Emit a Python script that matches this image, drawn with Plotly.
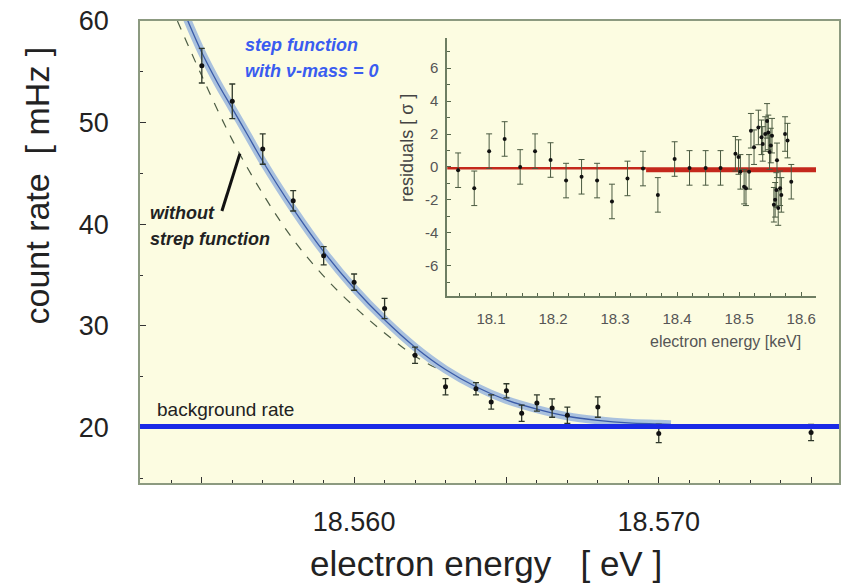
import plotly.graph_objects as go

# ---------------- data ----------------
energy_eV = [18.555, 18.556, 18.557, 18.558, 18.559, 18.560, 18.561, 18.562, 18.563,
             18.564, 18.5645, 18.565, 18.5655, 18.566, 18.5665, 18.567, 18.568, 18.570, 18.575]
count_rate = [55.6, 52.1, 47.4, 42.3, 36.9, 34.3, 31.7, 27.1, 24.0,
              23.8, 22.5, 23.6, 21.4, 22.4, 21.9, 21.2, 22.0, 19.4, 19.5]
count_err = [1.7, 1.7, 1.5, 1.0, 0.9, 0.8, 1.0, 0.8, 0.8,
             0.6, 0.7, 0.7, 0.8, 0.8, 0.9, 0.8, 1.0, 0.9, 0.8]

fit_E = [18.5545, 18.5550, 18.5555, 18.5560, 18.5565, 18.5570, 18.5580, 18.5590, 18.5600,
         18.5610, 18.5620, 18.5630, 18.5640, 18.5650, 18.5660, 18.5670, 18.5680, 18.5690,
         18.5700, 18.5704]
fit_rate = [60.3, 56.9, 54.0, 51.4, 48.8, 46.2, 41.5, 37.3, 33.7,
            30.6, 27.9, 25.7, 24.0, 22.7, 21.8, 21.1, 20.7, 20.45,
            20.35, 20.3]

nostep_E = [18.5542, 18.5550, 18.5560, 18.5570, 18.5580, 18.5590, 18.5600, 18.5610,
            18.5620, 18.5630, 18.5640]
nostep_rate = [60.0, 54.6, 48.3, 43.0, 38.5, 34.9, 31.9, 29.3, 27.0, 25.4, 24.0]

background_rate = 20.1

x_ticks = [18.555, 18.560, 18.565, 18.570, 18.575]
x_ticktext = ["", "18.560", "", "18.570", ""]
y_ticks = [20, 30, 40, 50, 60]

pointer_E = [18.55566, 18.55625]
pointer_rate = [41.3, 46.95]

res_E = [18.047, 18.073, 18.097, 18.122, 18.147, 18.171, 18.196, 18.221, 18.246, 18.271,
         18.295, 18.320, 18.345, 18.369, 18.396, 18.420, 18.446, 18.470,
         18.494, 18.499, 18.502, 18.508, 18.511, 18.516, 18.519, 18.524, 18.531, 18.536,
         18.538, 18.542, 18.545, 18.547, 18.549, 18.551, 18.553, 18.556, 18.558, 18.560,
         18.561, 18.563, 18.566, 18.568, 18.574, 18.578, 18.584]
res_val = [-0.2, -1.3, 0.96, 1.7, 0.0, 0.96, 0.42, -0.83, -0.6, -0.83,
           -2.1, -0.7, -0.1, -1.7, 0.48, -0.06, -0.06, -0.06,
           0.8, 0.6, -0.3, -1.2, -1.3, -0.3, 2.2, 1.2, 2.4, 1.8,
           1.4, 2.0, 2.8, 2.1, 0.9, 1.3, 1.9, -2.3, -2.0, -1.4,
           0.4, -2.5, -1.3, -1.7, 2.0, 1.6, -0.9]
res_err = [1.05] * len(res_E)

ref_thin_E = [18.0293, 18.35]
ref_thin_val = [-0.08, -0.08]
ref_thick_E = [18.35, 18.624]
ref_thick_val = [-0.17, -0.17]

res_x_ticks = [18.1, 18.2, 18.3, 18.4, 18.5, 18.6]
res_x_ticktext = ["18.1", "18.2", "18.3", "18.4", "18.5", "18.6"]
res_y_ticks = [-6, -4, -2, 0, 2, 4, 6]
res_y_ticktext = ["-6", "-4", "-2", "0", "2", "4", "6"]

FONT = "Liberation Sans, Arial, sans-serif"

fig = go.Figure()

# dashed "without step function"
fig.add_trace(go.Scatter(x=nostep_E, y=nostep_rate, mode="lines", line_shape="spline",
                         line=dict(color="#4d5d45", width=1.2, dash="dash"),
                         showlegend=False, hoverinfo="skip"))
# fit band and centre line
fig.add_trace(go.Scatter(x=fit_E, y=fit_rate, mode="lines", line_shape="spline",
                         line=dict(color="#a9c1de", width=8),
                         showlegend=False, hoverinfo="skip"))
fig.add_trace(go.Scatter(x=fit_E, y=fit_rate, mode="lines", line_shape="spline",
                         line=dict(color="#3b5ca8", width=1.3),
                         showlegend=False, hoverinfo="skip"))
# data points
fig.add_trace(go.Scatter(x=energy_eV, y=count_rate, mode="markers",
                         marker=dict(color="#111", size=5),
                         error_y=dict(type="data", array=count_err, color="#2f382a",
                                      thickness=1.3, width=3),
                         showlegend=False))

# residual inset
fig.add_trace(go.Scatter(x=ref_thin_E, y=ref_thin_val, mode="lines", xaxis="x2", yaxis="y2",
                         line=dict(color="#c4281c", width=2.5), showlegend=False))
fig.add_trace(go.Scatter(x=ref_thick_E, y=ref_thick_val, mode="lines", xaxis="x2", yaxis="y2",
                         line=dict(color="#c4281c", width=5), showlegend=False))
fig.add_trace(go.Scatter(x=res_E, y=res_val, mode="markers", xaxis="x2", yaxis="y2",
                         marker=dict(color="#111", size=4),
                         error_y=dict(type="data", array=res_err, color="#4a5a40",
                                      thickness=1, width=3),
                         showlegend=False))

# background rate line and pointer
fig.add_shape(type="line", xref="paper", yref="y", x0=0, x1=1,
              y0=background_rate, y1=background_rate,
              line=dict(color="#1a2ae6", width=5))
fig.add_shape(type="line", xref="x", yref="y", x0=pointer_E[0], x1=pointer_E[1],
              y0=pointer_rate[0], y1=pointer_rate[1],
              line=dict(color="#111", width=3))

axis_line = "#8c9a80"
fig.update_layout(
    width=847, height=586,
    margin=dict(l=140, r=6, t=16, b=103),
    paper_bgcolor="white", plot_bgcolor="#fcfce1",
    font=dict(family=FONT, color="#222"),
    xaxis=dict(range=[18.552971, 18.575917], tickmode="array", tickvals=x_ticks,
               ticktext=x_ticktext, ticks="inside", ticklen=6, tickcolor="#333",
               minor=dict(tickmode="linear", tick0=18.555, dtick=0.001, ticks="inside",
                          ticklen=3, tickcolor="#333"),
               showline=True, linecolor=axis_line, linewidth=1.5, mirror=True,
               showgrid=False, zeroline=False, ticklabelstandoff=14,
               tickfont=dict(size=27, color="#222")),
    yaxis=dict(range=[14.53, 60], tickmode="array", tickvals=y_ticks,
               ticks="inside", ticklen=6, tickcolor="#333",
               minor=dict(tickmode="linear", tick0=0, dtick=5, ticks="inside",
                          ticklen=3, tickcolor="#333"),
               showline=True, linecolor=axis_line, linewidth=1.5, mirror=True,
               showgrid=False, zeroline=False, ticklabelstandoff=24,
               tickfont=dict(size=27, color="#222")),
    xaxis2=dict(domain=[0.4394, 0.9672], anchor="y2", range=[18.0293, 18.624],
                tickmode="array", tickvals=res_x_ticks, ticktext=res_x_ticktext,
                ticks="inside", ticklen=4, tickcolor="#55654a",
                minor=dict(tickmode="linear", tick0=18.0, dtick=0.025, ticks="inside",
                           ticklen=3, tickcolor="#55654a"),
                showline=True, linecolor="#6e7e62", linewidth=1.5,
                showgrid=False, zeroline=False, ticklabelstandoff=8,
                tickfont=dict(size=15, color="#555")),
    yaxis2=dict(domain=[0.4047, 0.9636], anchor="x2", range=[-7.85, 7.85],
                tickmode="array", tickvals=res_y_ticks, ticktext=res_y_ticktext,
                ticks="inside", ticklen=4, tickcolor="#55654a",
                minor=dict(tickmode="linear", tick0=0, dtick=1, ticks="inside",
                           ticklen=3, tickcolor="#55654a"),
                showline=True, linecolor="#6e7e62", linewidth=1.5,
                showgrid=False, zeroline=False, ticklabelstandoff=4,
                tickfont=dict(size=15, color="#555")),
)

ann = [
    dict(text="electron energy   [ eV ]", x=0.495, y=(483 - 564) / 467,
         font=dict(size=35, color="#222")),
    dict(text="count rate  [ mHz ]", x=-0.147, y=0.6445, textangle=-90,
         font=dict(size=34, color="#222")),
    dict(text="residuals [ σ ]", x=0.381, y=0.726, textangle=-90,
         font=dict(size=18, color="#444")),
    dict(text="electron energy [keV]", x=0.837, y=0.306, font=dict(size=16, color="#555")),
    dict(text="<b><i>step function</i></b>", x=0.147, y=(483 - 40) / 467, xanchor="left",
         font=dict(size=18, color="#3a5cf0")),
    dict(text="<b><i>with ν-mass = 0</i></b>", x=0.147, y=(483 - 67) / 467, xanchor="left",
         font=dict(size=18, color="#3a5cf0")),
    dict(text="<b><i>without</i></b>", x=0.0114, y=(483 - 210) / 467, xanchor="left",
         font=dict(size=18, color="#222")),
    dict(text="<b><i>strep function</i></b>", x=0.0114, y=(483 - 236) / 467, xanchor="left",
         font=dict(size=18, color="#222")),
    dict(text="background rate", x=0.0214, y=(483 - 409) / 467, xanchor="left",
         font=dict(size=19, color="#222")),
]
for a in ann:
    a.setdefault("xanchor", "center")
    fig.add_annotation(xref="paper", yref="paper", showarrow=False, yanchor="middle", **a)

fig.write_html("out.html")
